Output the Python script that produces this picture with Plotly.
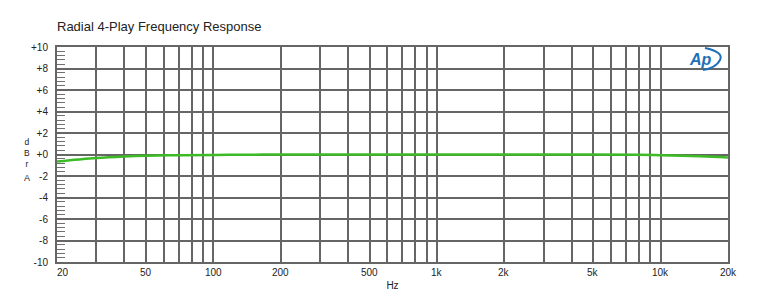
import plotly.graph_objects as go
import math

# ---- data ----
freq_hz = [20, 25, 30, 40, 50, 70, 100, 150, 200, 500, 1000, 2000, 5000, 8000, 10000, 15000, 20000]
level_dbra = [-0.66, -0.46, -0.32, -0.18, -0.11, -0.06, -0.04, -0.02, 0.0, 0.0, 0.0, 0.0, -0.01, -0.03, -0.07, -0.16, -0.28]

grid_freqs = [30, 40, 50, 60, 70, 80, 90, 100, 200, 300, 400, 500, 600, 700, 800, 900,
              1000, 2000, 3000, 4000, 5000, 6000, 7000, 8000, 9000, 10000]
xtick_vals = [20, 50, 100, 200, 500, 1000, 2000, 5000, 10000, 20000]
xtick_text = ["20", "50", "100", "200", "500", "1k", "2k", "5k", "10k", "20k"]
ytick_vals = [10, 8, 6, 4, 2, 0, -2, -4, -6, -8, -10]
ytick_text = ["+10", "+8", "+6", "+4", "+2", "+0", "-2", "-4", "-6", "-8", "-10"]

title = "Radial 4-Play Frequency Response"
GRID = "#666666"
FONT = "Liberation Sans, Arial, sans-serif"

# plot area geometry (pixels)
L, R, T, B = 57, 40, 47, 43
W, H = 768, 305
PW, PH = W - L - R, H - T - B

def px(x, y):
    return (x - L) / PW, (H - B - y) / PH

fig = go.Figure()
fig.add_trace(go.Scatter(
    x=freq_hz, y=level_dbra, mode="lines",
    line=dict(color="#3dbb26", width=2.5, shape="spline"),
    hoverinfo="skip", showlegend=False,
))

fig.update_layout(
    width=W, height=H,
    margin=dict(l=L, r=R, t=T, b=B),
    paper_bgcolor="white", plot_bgcolor="white",
    font=dict(family=FONT, color="#222", size=10),
    title=dict(text=title, x=L / W, xanchor="left", y=1 - 26 / H, yanchor="middle",
               font=dict(size=13, color="#222", family=FONT)),
    showlegend=False,
)

fig.update_xaxes(
    type="log", range=[math.log10(20), math.log10(20000)],
    tickvals=grid_freqs, ticktext=[""] * len(grid_freqs),
    showgrid=True, gridcolor=GRID, gridwidth=1.8,
    showline=True, linecolor=GRID, linewidth=2, mirror=True,
    ticks="", zeroline=False,
    title=dict(text="Hz", font=dict(size=10, color="#222"), standoff=17),
)
fig.update_yaxes(
    range=[-10, 10],
    tickvals=ytick_vals, ticktext=ytick_text,
    showgrid=True, gridcolor=GRID, gridwidth=1.8,
    showline=True, linecolor=GRID, linewidth=2, mirror=True,
    ticks="inside", ticklen=9, tickcolor=GRID, tickwidth=1.5,
    ticklabelstandoff=5,
    zeroline=False,
    tickfont=dict(size=10, color="#222"),
    minor=dict(dtick=0.4, tick0=0, ticks="inside", ticklen=8, tickcolor="#707070", tickwidth=1.3, showgrid=False),
)

# x tick labels
for v, t in zip(xtick_vals, xtick_text):
    fig.add_annotation(x=math.log10(v), y=0, xref="x", yref="paper", text=t,
                       showarrow=False, yanchor="top", yshift=-3,
                       xshift=6 if v == 20 else 0,
                       font=dict(size=10, color="#222", family=FONT))

# vertical stacked axis label dBrA
xp, yp = px(27, 153)
fig.add_annotation(x=xp, y=yp, xref="paper", yref="paper", text="d<br>B<br>r",
                   showarrow=False, xanchor="center", yanchor="middle", borderpad=0,
                   font=dict(size=8.5, color="#222", family=FONT))
xp, yp = px(27, 178)
fig.add_annotation(x=xp, y=yp, xref="paper", yref="paper", text="A",
                   showarrow=False, xanchor="center", yanchor="middle", borderpad=0,
                   font=dict(size=9, color="#222", family=FONT))

# AP logo
lx, ly = px(700, 59)
fig.add_annotation(x=lx, y=ly, xref="paper", yref="paper",
                   text="<b><i>Ap</i></b>", showarrow=False,
                   xanchor="center", yanchor="middle",
                   font=dict(size=16, color="#1f6fb8", family="Liberation Sans, Arial"))
pts = [px(705, 48), px(724, 52), px(720, 60), px(716, 68), px(703, 70)]
path = "M {:.4f},{:.4f} Q {:.4f},{:.4f} {:.4f},{:.4f} Q {:.4f},{:.4f} {:.4f},{:.4f}".format(
    *pts[0], *pts[1], *pts[2], *pts[3], *pts[4])
fig.add_shape(type="path", path=path, xref="paper", yref="paper",
              line=dict(color="#1f6fb8", width=2))

fig.write_html("out.html")
